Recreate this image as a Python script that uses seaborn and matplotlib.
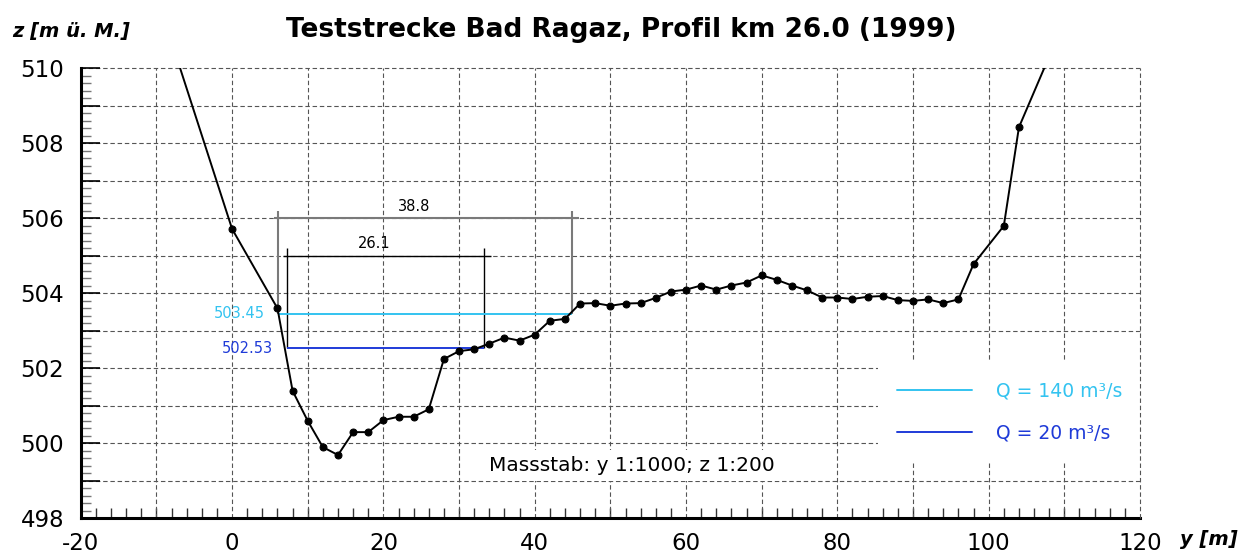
import numpy as np
import matplotlib
matplotlib.use('Agg')
import matplotlib.pyplot as plt
from matplotlib.lines import Line2D
from matplotlib.ticker import FixedLocator, FuncFormatter
import seaborn as sns

# Querprofil: y = Distanz [m], z = Hoehe [m ü. M.]
y_m = [-10, 0, 6, 8, 10, 12, 14, 16, 18, 20, 22, 24, 26, 28, 30, 32, 34, 36,
       38, 40, 42, 44, 46, 48, 50, 52, 54, 56, 58, 60, 62, 64, 66, 68, 70, 72,
       74, 76, 78, 80, 82, 84, 86, 88, 90, 92, 94, 96, 98, 102, 104, 110]
z_m = [511.95, 505.71, 503.59, 501.39, 500.59, 499.89, 499.68, 500.29, 500.29,
       500.61, 500.70, 500.70, 500.90, 502.24, 502.45, 502.50, 502.65, 502.81,
       502.73, 502.89, 503.26, 503.31, 503.72, 503.73, 503.66, 503.72, 503.73,
       503.87, 504.04, 504.09, 504.20, 504.09, 504.20, 504.28, 504.47, 504.35,
       504.20, 504.07, 503.88, 503.88, 503.84, 503.90, 503.92, 503.81, 503.79,
       503.83, 503.73, 503.83, 504.77, 505.79, 508.42, 511.25]

# Wasserspiegel
q_labels = ['Q = 140 m³/s', 'Q = 20 m³/s']
q_levels = [503.45, 502.53]
q_left = [6.1, 7.2]
q_right = [44.9, 33.3]
q_colors = ['#33c3f0', '#1f3bd8']
dim_z = [506.0, 505.0]
dim_colors = ['#7a7a7a', 'black']

sns.set_style('white')
plt.rcParams['font.family'] = ['DejaVu Sans']
plt.rcParams['axes.unicode_minus'] = False
plt.rcParams['text.color'] = 'black'
plt.rcParams['xtick.color'] = 'black'
plt.rcParams['ytick.color'] = 'black'

fig = plt.figure(figsize=(12.5, 5.57), dpi=100)
ax = fig.add_axes([0.0646, 0.07, 0.8474, 0.8079])

# Gitter (rechter Rand ueber der Legende)
grid_kw = dict(color='#555555', lw=0.8, ls=(0, (4, 2.5)), clip_on=False)
for z in range(499, 511):
    ax.axhline(z, zorder=0.5, **grid_kw)
for y in range(-10, 121, 10):
    ax.axvline(y, zorder=6 if y == 120 else 0.6, **grid_kw)

# Profil
sns.lineplot(x=y_m, y=z_m, ax=ax, color='black', lw=1.4, marker='o',
             markersize=5, markeredgecolor='black', zorder=3)

# Wasserspiegel und Bemassung
for lvl, l, r, c, dz, dc in zip(q_levels, q_left, q_right, q_colors, dim_z, dim_colors):
    ax.hlines(lvl, l, r, color=c, lw=1.4, zorder=2.5)
    ax.text(l - 1.8, lvl, f'{lvl:.2f}', color=c, ha='right', va='center', fontsize=10.5)
    lw = 1.5 if dc != 'black' else 1.0
    ax.vlines([l, r], lvl, dz + 0.2, color=dc, lw=lw, zorder=2)
    ax.hlines(dz, l - 0.5, r + 0.9, color=dc, lw=lw, zorder=2)
    ax.text((l + r) / 2 - 1.5, dz + 0.12, f'{r - l:.1f}', ha='center', va='bottom',
            fontsize=10.5)

ax.text(52.9, 499.41, 'Massstab: y 1:1000; z 1:200', ha='center', va='center',
        fontsize=14.5, zorder=1,
        bbox=dict(boxstyle='square,pad=0.3', fc='white', ec='none'))

handles = [Line2D([], [], color=c, lw=1.4) for c in q_colors]
ax.legend(handles, q_labels, loc='upper left', bbox_to_anchor=(85.4, 502.15),
          bbox_transform=ax.transData, borderaxespad=0, frameon=True,
          facecolor='white', edgecolor='none', framealpha=1, fancybox=False,
          fontsize=13.5, handlelength=4.0, handletextpad=1.3, labelspacing=1.25,
          borderpad=1.0, labelcolor=q_colors)

ax.set_xlim(-20, 120)
ax.set_ylim(498, 510)
ax.set_xticks(np.arange(-20, 121, 20))
ax.xaxis.set_minor_locator(FixedLocator(np.arange(-20, 121, 2)))
ax.yaxis.set_major_locator(FixedLocator(np.arange(498, 511, 1)))
ax.yaxis.set_major_formatter(FuncFormatter(lambda v, p: f'{v:.0f}' if int(v) % 2 == 0 else ''))
ax.yaxis.set_minor_locator(FixedLocator(np.arange(498, 510.01, 0.2)))
ax.tick_params(axis='both', which='both', direction='in', labelsize=16.5,
               left=True, bottom=True, labelcolor='black')
ax.tick_params(axis='x', which='major', length=0, pad=10)
ax.tick_params(axis='x', which='minor', length=7, width=1, color='#333333')
ax.tick_params(axis='y', which='major', length=14, width=1.2, color='black', pad=12)
ax.tick_params(axis='y', which='minor', length=7, width=1, color='#777777')
ax.set_xlabel('')
ax.set_ylabel('')

for s in ['top', 'right']:
    ax.spines[s].set_visible(False)
for s in ['left', 'bottom']:
    ax.spines[s].set_linewidth(2.2)
    ax.spines[s].set_color('black')
    ax.spines[s].set_zorder(4)

fig.text(0.497, 0.946, 'Teststrecke Bad Ragaz, Profil km 26.0 (1999)',
         ha='center', va='center', fontsize=19, fontweight='bold')
fig.text(0.0096, 0.943, 'z [m ü. M.]', ha='left', va='center', fontsize=14,
         fontweight='bold', fontstyle='italic')
fig.text(0.944, 0.031, 'y [m]', ha='left', va='center', fontsize=14,
         fontweight='bold', fontstyle='italic')

plt.savefig('out.png', dpi=100)
